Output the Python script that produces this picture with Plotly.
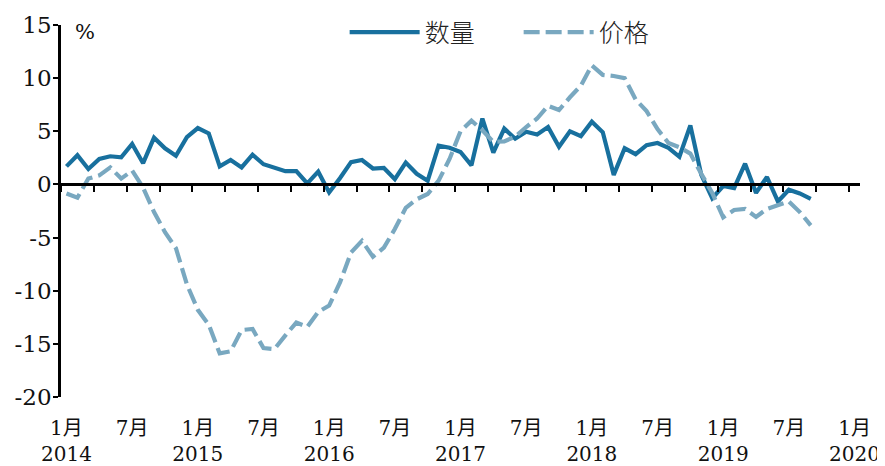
import plotly.graph_objects as go

# ---- data (monthly, Jan 2014 .. Sep 2019), % yoy ----
month_index = list(range(69))
quantity = [1.7, 2.75, 1.45, 2.4, 2.65, 2.55, 3.8, 2.0, 4.4, 3.4, 2.7, 4.45,
            5.3, 4.8, 1.7, 2.3, 1.6, 2.8, 1.9, 1.55, 1.25, 1.25, 0.1, 1.2,
            -0.75, 0.6, 2.1, 2.3, 1.5, 1.55, 0.5, 2.05, 1.0, 0.35, 3.65, 3.45,
            3.05, 1.8, 6.2, 3.0, 5.25, 4.3, 4.95, 4.7, 5.4, 3.55, 5.0, 4.55,
            5.9, 4.9, 0.9, 3.4, 2.85, 3.7, 3.9, 3.45, 2.6, 5.55, 0.9, -1.3,
            -0.15, -0.35, 1.95, -0.8, 0.7, -1.6, -0.5, -0.85, -1.35]
price = [-0.85, -1.25, 0.55, 0.85, 1.6, 0.55, 1.3, -0.3, -2.6, -4.5, -6.0, -9.4,
         -11.8, -13.2, -15.9, -15.7, -13.7, -13.6, -15.4, -15.5, -14.2, -13.0, -13.4, -12.0,
         -11.4, -9.2, -6.4, -5.3, -6.8, -5.95, -4.2, -2.2, -1.4, -0.9, 0.35, 2.4,
         5.0, 6.0, 5.1, 4.0, 4.05, 4.5, 5.4, 6.2, 7.4, 7.0, 8.2, 9.3,
         11.2, 10.3, 10.2, 10.0, 8.0, 6.9, 5.2, 3.9, 3.5, 2.9, 1.0, -0.8,
         -3.1, -2.4, -2.3, -3.05, -2.3, -1.9, -1.6, -2.6, -3.85]
series_names = ["数量", "价格"]
years = [2014, 2015, 2016, 2017, 2018, 2019, 2020]
y_ticks = [15, 10, 5, 0, -5, -10, -15, -20]

# tick labels every 6 months: 1月 (with year) / 7月
label_pos = list(range(0, 73, 6))
label_text = []
for k, p in enumerate(label_pos):
    if k % 2 == 0:
        label_text.append("1月<br>" + str(years[k // 2]))
    else:
        label_text.append("7月")
minor_tick_pos = [p - 0.5 for p in range(0, 73, 3)]

c_q = "#18709E"
c_p = "#79A8C0"

fig = go.Figure()
fig.add_trace(go.Scatter(x=month_index, y=quantity, name=series_names[0], mode="lines",
                         line=dict(color=c_q, width=4.2), xaxis="x", yaxis="y"))
fig.add_trace(go.Scatter(x=month_index, y=price, name=series_names[1], mode="lines",
                         line=dict(color=c_p, width=4.2, dash="16px,6px"), xaxis="x2", yaxis="y"))

xr = [-0.5, 72.5]
yr = [-20, 15]
serif = "DejaVu Serif, Noto Sans CJK SC, serif"
fig.update_layout(
    width=885, height=466,
    margin=dict(l=53, r=33, t=16.5, b=77, autoexpand=False),
    paper_bgcolor="white", plot_bgcolor="white",
    showlegend=True,
    legend=dict(orientation="h", x=0.355, xanchor="left", y=0.98, yanchor="middle",
                font=dict(family="Noto Sans CJK SC", size=25, color="#222", weight=300),
                itemwidth=70, entrywidth=89, entrywidthmode="pixels",
                bgcolor="rgba(0,0,0,0)"),
    xaxis=dict(range=xr, showline=False, showgrid=False, zeroline=False,
               tickmode="array", tickvals=label_pos, ticktext=label_text,
               ticks="", tickfont=dict(family=serif, size=20, color="#111"),
               ticklabelstandoff=17),
    xaxis2=dict(range=xr, overlaying="x", anchor="free",
                position=(0 - yr[0]) / (yr[1] - yr[0]),
                showline=True, linecolor="black", linewidth=2.5,
                showgrid=False, zeroline=False, showticklabels=False,
                tickmode="array", tickvals=minor_tick_pos,
                ticks="outside", ticklen=6, tickwidth=2, tickcolor="black"),
    yaxis=dict(range=yr, showline=True, linecolor="black", linewidth=2.5,
               showgrid=False, zeroline=False,
               tickmode="array", tickvals=y_ticks, ticktext=[str(v) for v in y_ticks],
               ticks="outside", ticklen=5, tickwidth=2, tickcolor="black",
               tickfont=dict(family=serif, size=23, color="#111"),
               ticklabelstandoff=-3),
    annotations=[dict(x=1.7, y=14.3, xref="x", yref="y", text="%", showarrow=False,
                      font=dict(family=serif, size=21, color="#111"))],
)

fig.write_html("out.html")
